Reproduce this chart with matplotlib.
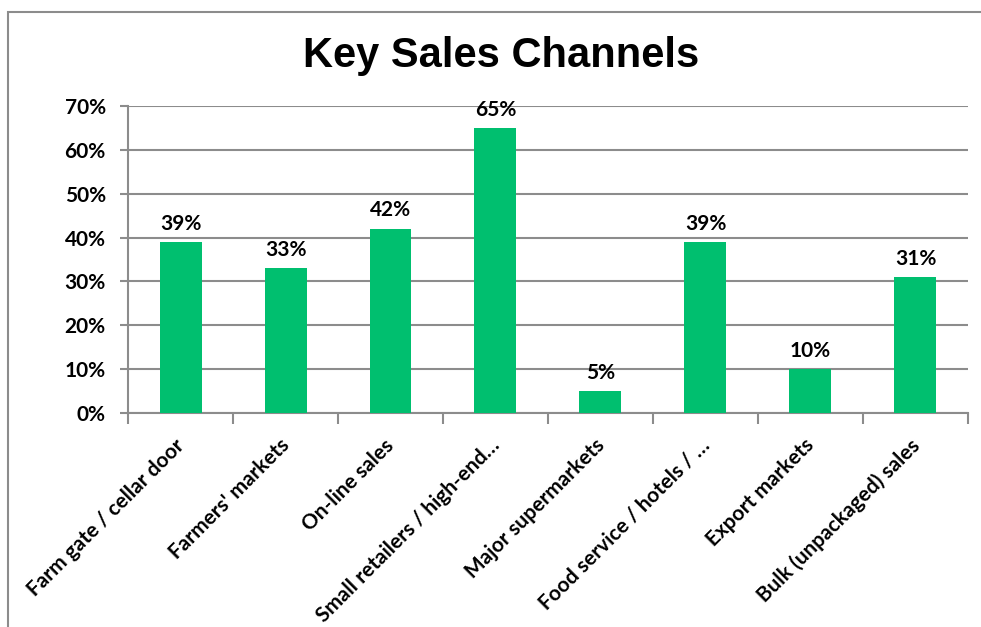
import matplotlib.pyplot as plt
from matplotlib.patches import Rectangle
from matplotlib.ticker import FixedLocator, PercentFormatter

channels = [
    "Farm gate / cellar door",
    "Farmers' markets",
    "On-line sales",
    "Small retailers / high-end\u2026",
    "Major supermarkets",
    "Food service / hotels / \u2026",
    "Export markets",
    "Bulk (unpackaged) sales",
]
share = [39, 33, 42, 65, 5, 39, 10, 31]
y_ticks = [0, 10, 20, 30, 40, 50, 60, 70]

bar_color = "#00BF6F"
grid_color = "#8C8C8C"
label_font = "Lato"
fs = 15

fig = plt.figure(figsize=(9.81, 6.27), dpi=100)
ax = fig.add_axes([0.1305, 0.3413, 0.8562, 0.4896])

# outer chart frame (left and top edges visible)
fig.patches.append(Rectangle((8 / 981, -0.1), 1.2, 0.1 + 1 - 12 / 627,
                             transform=fig.transFigure, fill=False,
                             edgecolor=grid_color, linewidth=1.5))

x = list(range(len(channels)))
ax.bar(x, share, width=0.4, color=bar_color, zorder=3)

for xi, v in zip(x, share):
    ax.annotate(f"{v}%", (xi, v), xytext=(0, 6), textcoords="offset points",
                ha="center", va="bottom", fontsize=fs, fontweight="bold",
                family=label_font, color="black")

ax.set_xlim(-0.5, len(channels) - 0.5)
ax.set_ylim(0, 70)
ax.yaxis.set_major_locator(FixedLocator(y_ticks))
ax.yaxis.set_major_formatter(PercentFormatter(decimals=0))
ax.grid(axis="y", color=grid_color, linewidth=1.5, zorder=0)

# category boundaries get the tick marks, centres carry the labels
# (nudged slightly left so the rotated text ends under the bar)
ax.xaxis.set_major_locator(FixedLocator([i - 0.5 for i in range(len(channels) + 1)]))
ax.xaxis.set_major_formatter(plt.NullFormatter())
ax.xaxis.set_minor_locator(FixedLocator([xi - 0.06 for xi in x]))
ax.set_xticklabels(channels, minor=True, rotation=45, ha="right",
                   rotation_mode="anchor", fontsize=fs, fontweight="bold",
                   family=label_font)
ax.tick_params(axis="x", which="major", length=8, width=1.5, color=grid_color)
ax.tick_params(axis="x", which="minor", length=0, pad=16)
ax.tick_params(axis="y", length=6, width=1.5, color=grid_color, pad=10)
for lab in ax.get_yticklabels():
    lab.set_fontweight("bold")
    lab.set_family(label_font)
    lab.set_fontsize(fs)

for side in ["top", "right"]:
    ax.spines[side].set_visible(False)
for side in ["left", "bottom"]:
    ax.spines[side].set_color(grid_color)
    ax.spines[side].set_linewidth(1.5)

fig.text(0.511, 0.91, "Key Sales Channels", ha="center", va="center",
         fontsize=30, fontweight="bold", family="Liberation Sans")

fig.savefig("out.png", dpi=100)
